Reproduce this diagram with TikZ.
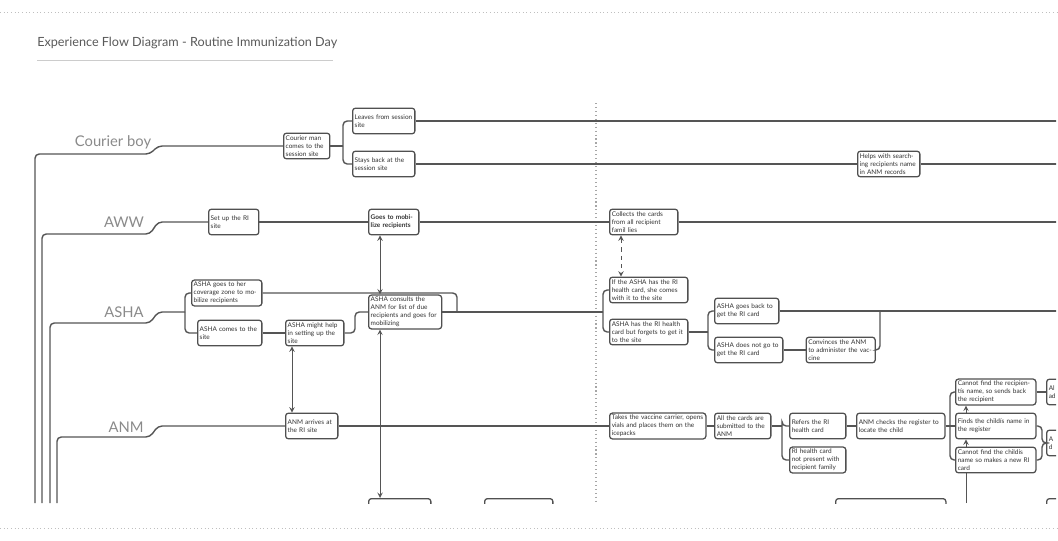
\documentclass[tikz,border=0pt]{standalone}
\usepackage{fontspec}
\setmainfont{Lato}
\usetikzlibrary{positioning,calc}
\usetikzlibrary{arrows}
\definecolor{lanec}{HTML}{555555}
\definecolor{boxc}{HTML}{505050}
\definecolor{labc}{HTML}{8A8A8A}
\tikzset{
  box/.style={draw=boxc, line width=0.9pt, rounded corners=2pt, fill=white, anchor=west,
    align=left, inner sep=1.5pt, text width=#1, minimum height=0.64cm,
    font=\fontsize{4.6}{5.6}\selectfont, text=black!80},
  box/.default=1.2cm,
  lane/.style={draw=lanec, line width=1pt, rounded corners=3pt},
  lanelabel/.style={font=\fontsize{10.5}{12}\selectfont, text=labc},
  link/.style={draw=lanec, line width=0.7pt, >=stealth}
}
\begin{document}
\begin{tikzpicture}[x=0.025cm, y=-0.025cm]
  \useasboundingbox (0,0) rectangle (1058,540);
  % frame lines
  \draw[gray!50, dotted, line width=0.6pt] (0,12) -- (1058,12);
  \draw[gray!50, dotted, line width=0.6pt] (0,528) -- (1058,528);
  \node[anchor=west, font=\fontsize{9}{11}\selectfont, text=black!65, inner sep=0] (title) at (37,43) {Experience Flow Diagram - Routine Immunization Day};
  \draw[gray!40, line width=0.5pt] (37,60) -- (333,60);
  \draw[gray!70, dotted, line width=0.8pt] (596,103) -- (596,503);

  % lane labels
  \node[lanelabel] (l_cb) at (113,142) {Courier boy};
  \node[lanelabel] (l_aww) at (124,222) {AWW};
  \node[lanelabel] (l_asha) at (124,312) {ASHA};
  \node[lanelabel] (l_anm) at (126,427) {ANM};

  \begin{scope}
  \clip (0,0) rectangle (1056,503);
  % courier boy
  \node[box=1.05cm] (cb_1) at (283,146) {Courier man comes to the session site};
  \node[box=1.45cm] (cb_2) at (352,121) {Leaves from session site};
  \node[box=1.45cm] (cb_3) at (352,164) {Stays back at the session site};
  \node[box=1.45cm] (cb_4) at (857,164) {Helps with searching recipients name in ANM records};

  % aww
  \node[box=1.15cm] (aw_1) at (208,222) {Set up the RI site};
  \node[box=1.15cm] (aw_2) at (368,222) {\textbf{Goes to mobilize recipients}};
  \node[box=1.6cm] (aw_3) at (609,222) {Collects the cards from all recipient famil lies};

  % asha
  \node[box=1.65cm] (as_1) at (191,293) {ASHA goes to her coverage zone to mobilize recipients};
  \node[box=1.5cm] (as_2) at (197,333) {ASHA comes to the site};
  \node[box=1.35cm] (as_3) at (285,333) {ASHA might help in setting up the site};
  \node[box=1.72cm] (as_4) at (368,312) {ASHA consults the ANM for list of due recipients and goes for mobilizing};
  \node[box=1.85cm] (as_5) at (609,290) {If the ASHA has the RI health card, she comes with it to the site};
  \node[box=1.85cm] (as_6) at (609,332) {ASHA has the RI health card but forgets to get it to the site};
  \node[box=1.5cm] (as_7) at (714,311) {ASHA goes back to get the RI card};
  \node[box=1.6cm] (as_8) at (714,350) {ASHA does not go to get the RI card};
  \node[box=1.62cm] (as_9) [right=0.55cm of as_8] {Convinces the ANM to administer the vaccine};

  % anm
  \node[box=1.2cm] (an_1) at (285,426) {ANM arrives at the RI site};
  \node[box=2.3cm] (an_2) at (609,426) {Takes the vaccine carrier, opens vials and places them on the icepacks};
  \node[box=1.3cm] (an_3) at (714,426) {All the cards are submitted to the ANM};
  \node[box=1.3cm] (an_4) at (789,426) {Refers the RI health card};
  \node[box=1.3cm] (an_5) at (789,460) {RI health card not present with recipient family};
  \node[box=2.1cm] (an_6) at (856,426) {ANM checks the register to locate the child};
  \node[box=1.9cm] (an_7) at (955,392) {Cannot find the recipientís name, so sends back the recipient};
  \node[box=1.9cm] (an_8) at (955,426) {Finds the childís name in the register};
  \node[box=1.9cm] (an_9) at (955,460) {Cannot find the childís name so makes a new RI card};
  \node[box=1.2cm] (an_10) at (1046,392) {Al\\ad};
  \node[box=1.2cm] (an_11) at (1046,443) {A\\d};

  % bottom row, cut off
  \node[box=1.45cm, anchor=north west] (bt_1) at (368,498) {};
  \node[box=1.6cm, anchor=north west] (bt_2) at (484,498) {};
  \node[box=2.65cm, anchor=north west] (bt_3) at (835,498) {};
  \node[box=1.2cm, anchor=north west] (bt_4) at (1046,498) {};

  % lanes
  \draw[lane] (35,503) -- (35,154) -- (150,154) -- (158,146) -- (cb_1.west);
  \coordinate (cb_b) at (343,146);
  \draw[lane] (cb_1.east) -- (cb_b);
  \draw[lane] (cb_b) |- (cb_2.west);
  \draw[lane] (cb_b) |- (cb_3.west);
  \draw[lane] (cb_2.east) -- (1058,121);
  \draw[lane] (cb_3.east) -- (cb_4.west);
  \draw[lane] (cb_4.east) -- (1058,164);

  \draw[lane] (42,503) -- (42,234) -- (150,234) -- (158,222) -- (aw_1.west);
  \draw[lane] (aw_1.east) -- (aw_2.west);
  \draw[lane] (aw_2.east) -- (aw_3.west);
  \draw[lane] (aw_3.east) -- (1058,222);

  \draw[lane] (50,503) -- (50,323) -- (150,323) -- (158,312) -- (185,312);
  \coordinate (as_b) at (185,312);
  \draw[lane] (as_b) |- (as_1.west);
  \draw[lane] (as_b) |- (as_2.west);
  \draw[lane] (as_1.east) -- (457,293) -- (457,312);
  \draw[lane] (as_2.east) -- (as_3.west);
  \draw[lane] (as_3.east) -- (355,333) |- (as_4.west);
  \coordinate (as_c) at (603,312);
  \draw[lane] (as_4.east) -- (as_c);
  \draw[lane] (as_c) |- (as_5.west);
  \draw[lane] (as_c) |- (as_6.west);
  \coordinate (as_d) at (708,332);
  \draw[lane] (as_6.east) -- (as_d);
  \draw[lane] (as_d) |- (as_7.west);
  \draw[lane] (as_d) |- (as_8.west);
  \draw[lane] (as_7.east) -- (1058,311);
  \draw[lane] (as_8.east) -- (as_9.west);
  \draw[lane] (as_9.east) -- (880,350) -- (880,311);

  \draw[lane] (57,503) -- (57,437) -- (150,437) -- (158,426) -- (an_1.west);
  \draw[lane] (an_1.east) -- (an_2.west);
  \draw[lane] (an_2.east) -- (an_3.west);
  \coordinate (an_b) at (782,426);
  \draw[lane] (an_3.east) -- (an_b);
  \draw[lane] (an_b) |- (an_4.west);
  \draw[lane] (an_b) |- (an_5.west);
  \draw[lane] (an_4.east) -- (an_6.west);
  \coordinate (an_c) at (950,426);
  \draw[lane] (an_6.east) -- (an_c);
  \draw[lane] (an_c) |- (an_7.west);
  \draw[lane] (an_c) |- (an_9.west);
  \draw[lane] (an_c) -- (an_8.west);
  \draw[lane] (an_7.east) -- (an_10.west);
  \draw[lane] (an_8.east) -- (1042,426) |- (an_11.west);
  \draw[lane] (an_9.east) -- (1042,460) |- (an_11.west);

  % links between lanes
  \draw[link, <->] (aw_2.south -| 380,0) -- (as_4.north -| 380,0);
  \draw[link, <->] (as_4.south -| 380,0) -- (bt_1.north -| 380,0);
  \draw[link, <->] (as_3.south -| 292,0) -- (an_1.north -| 292,0);
  \draw[link, <->, dashed] (aw_3.south -| 621,0) -- (as_5.north -| 621,0);
  \draw[link, ->] (an_9.north -| 966,0) -- (an_8.south -| 966,0);
  \draw[link, ->] (an_8.north -| 966,0) -- (an_7.south -| 966,0);
  \draw[link] (966,503) -- (an_9.south -| 966,0);
  \end{scope}
\end{tikzpicture}
\end{document}
